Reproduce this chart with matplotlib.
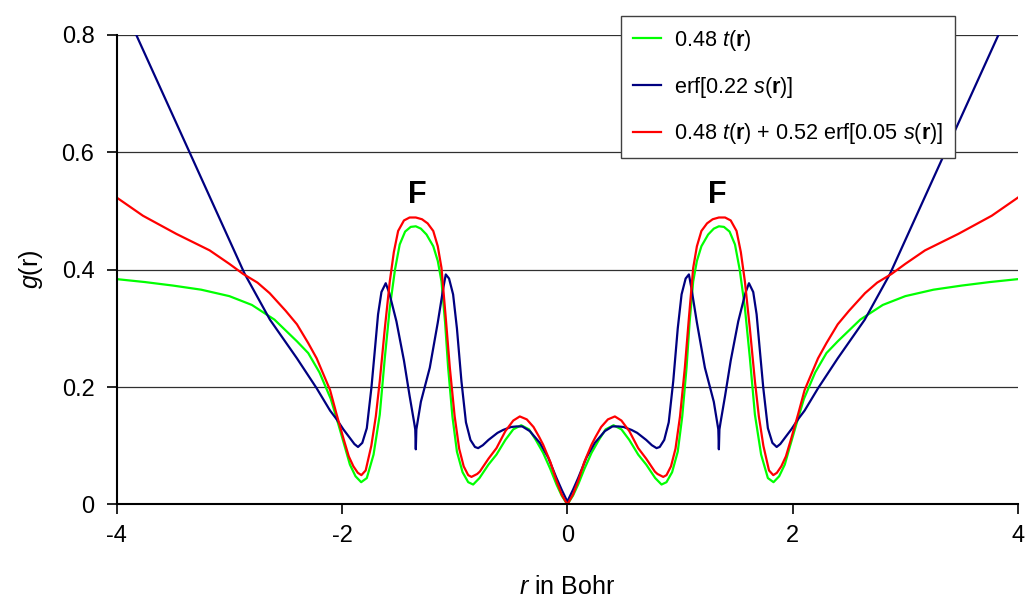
import numpy as np
import matplotlib
matplotlib.use('Agg')
import matplotlib.pyplot as plt

plt.rcParams['font.family'] = ['Liberation Sans', 'DejaVu Sans']
plt.rcParams['mathtext.fontset'] = 'custom'
plt.rcParams['mathtext.rm'] = 'Liberation Sans'
plt.rcParams['mathtext.it'] = 'Liberation Sans:italic'
plt.rcParams['mathtext.bf'] = 'Liberation Sans:bold'
plt.rcParams['axes.unicode_minus'] = False

# values (r in Bohr, g(r))
r_green = [-4.0, -3.75, -3.5, -3.25, -3.0, -2.8, -2.6, -2.4, -2.3, -2.2, -2.1, -2.03, -1.97, -1.93,
           -1.88, -1.83, -1.78, -1.72, -1.665, -1.62, -1.576, -1.53, -1.488, -1.44, -1.39, -1.345,
           -1.30, -1.25, -1.19, -1.15, -1.117, -1.085, -1.058, -1.02, -0.98, -0.93, -0.88, -0.836,
           -0.78, -0.70, -0.629, -0.55, -0.48, -0.41, -0.34, -0.28, -0.215, -0.15, -0.096, -0.05,
           0.0,
           0.05, 0.096, 0.15, 0.215, 0.28, 0.34, 0.41, 0.48, 0.55, 0.629, 0.70, 0.78,
           0.836, 0.88, 0.93, 0.98, 1.02, 1.058, 1.085, 1.117, 1.15, 1.19, 1.25, 1.30,
           1.345, 1.39, 1.44, 1.488, 1.53, 1.576, 1.62, 1.665, 1.72, 1.78, 1.83, 1.88,
           1.93, 1.97, 2.03, 2.1, 2.2, 2.3, 2.4, 2.6, 2.8, 3.0, 3.25, 3.5, 3.75, 4.0]
g_green = [0.384, 0.379, 0.373, 0.366, 0.355, 0.340, 0.315, 0.278, 0.258, 0.225, 0.180, 0.135, 0.095, 0.068,
           0.048, 0.038, 0.045, 0.085, 0.153, 0.250, 0.335, 0.400, 0.443, 0.465, 0.473, 0.474,
           0.470, 0.460, 0.440, 0.415, 0.380, 0.310, 0.233, 0.150, 0.090, 0.055, 0.038, 0.034,
           0.045, 0.068, 0.085, 0.110, 0.128, 0.135, 0.128, 0.110, 0.088, 0.060, 0.034, 0.015,
           0.0,
           0.015, 0.034, 0.060, 0.088, 0.110, 0.128, 0.135, 0.128, 0.110, 0.085, 0.068, 0.045,
           0.034, 0.038, 0.055, 0.090, 0.150, 0.233, 0.310, 0.380, 0.415, 0.440, 0.460, 0.470,
           0.474, 0.473, 0.465, 0.443, 0.400, 0.335, 0.250, 0.153, 0.085, 0.045, 0.038, 0.048,
           0.068, 0.095, 0.135, 0.180, 0.225, 0.258, 0.278, 0.315, 0.340, 0.355, 0.366, 0.373, 0.379, 0.384]

r_blue = [-4.0, -3.826, -3.353, -2.864, -2.64, -2.40, -2.225, -2.106, -2.047, -1.988, -1.929, -1.89,
          -1.858, -1.82, -1.78, -1.739, -1.71, -1.68, -1.65, -1.612, -1.58, -1.517, -1.45, -1.40,
          -1.36, -1.35, -1.345, -1.34, -1.30, -1.221, -1.15, -1.10, -1.079, -1.05, -1.014, -0.98,
          -0.94, -0.90, -0.86, -0.82, -0.792, -0.75, -0.70, -0.62, -0.57, -0.50, -0.451, -0.40,
          -0.333, -0.244, -0.17, -0.096, -0.05,
          0.0,
          0.05, 0.096, 0.17, 0.244, 0.333, 0.40, 0.451, 0.50, 0.57, 0.62, 0.70, 0.75,
          0.792, 0.82, 0.86, 0.90, 0.94, 0.98, 1.014, 1.05, 1.079, 1.10, 1.15, 1.221,
          1.30, 1.34, 1.345, 1.35, 1.36, 1.40, 1.45, 1.517, 1.58, 1.612, 1.65, 1.68,
          1.71, 1.739, 1.78, 1.82, 1.858, 1.89, 1.929, 1.988, 2.047, 2.106, 2.225, 2.40,
          2.64, 2.864, 3.353, 3.826, 4.0]
g_blue = [0.874, 0.800, 0.600, 0.393, 0.315, 0.249, 0.198, 0.160, 0.145, 0.128, 0.113, 0.103,
          0.098, 0.105, 0.130, 0.199, 0.260, 0.324, 0.362, 0.377, 0.360, 0.312, 0.245, 0.185,
          0.140, 0.128, 0.094, 0.128, 0.175, 0.233, 0.310, 0.370, 0.392, 0.385, 0.358, 0.300,
          0.210, 0.140, 0.110, 0.098, 0.096, 0.101, 0.110, 0.122, 0.127, 0.132, 0.133, 0.133,
          0.125, 0.105, 0.080, 0.045, 0.025,
          0.005,
          0.025, 0.045, 0.080, 0.105, 0.125, 0.133, 0.133, 0.132, 0.127, 0.122, 0.110, 0.101,
          0.096, 0.098, 0.110, 0.140, 0.210, 0.300, 0.358, 0.385, 0.392, 0.370, 0.310, 0.233,
          0.175, 0.128, 0.094, 0.128, 0.140, 0.185, 0.245, 0.312, 0.360, 0.377, 0.362, 0.324,
          0.260, 0.199, 0.130, 0.105, 0.098, 0.103, 0.113, 0.128, 0.145, 0.160, 0.198, 0.249,
          0.315, 0.393, 0.600, 0.800, 0.874]

r_red = [-4.0, -3.767, -3.47, -3.175, -3.0, -2.879, -2.75, -2.642, -2.5, -2.4, -2.3, -2.225,
         -2.106, -2.05, -1.988, -1.94, -1.899, -1.86, -1.828, -1.79, -1.74, -1.70, -1.665, -1.62,
         -1.576, -1.54, -1.502, -1.45, -1.40, -1.345, -1.29, -1.24, -1.19, -1.15, -1.117, -1.08,
         -1.043, -1.0, -0.96, -0.92, -0.88, -0.851, -0.80, -0.777, -0.70, -0.629, -0.55, -0.48,
         -0.422, -0.36, -0.30, -0.25, -0.215, -0.15, -0.096, -0.05,
         0.0,
         0.05, 0.096, 0.15, 0.215, 0.25, 0.30, 0.36, 0.422, 0.48, 0.55, 0.629, 0.70,
         0.777, 0.80, 0.851, 0.88, 0.92, 0.96, 1.0, 1.043, 1.08, 1.117, 1.15, 1.19,
         1.24, 1.29, 1.345, 1.40, 1.45, 1.502, 1.54, 1.576, 1.62, 1.665, 1.70, 1.74,
         1.79, 1.828, 1.86, 1.899, 1.94, 1.988, 2.05, 2.106, 2.225, 2.3, 2.4, 2.5,
         2.642, 2.75, 2.879, 3.0, 3.175, 3.47, 3.767, 4.0]
g_red = [0.523, 0.492, 0.461, 0.433, 0.410, 0.393, 0.378, 0.360, 0.330, 0.307, 0.275, 0.249,
         0.195, 0.155, 0.113, 0.082, 0.065, 0.054, 0.050, 0.058, 0.100, 0.150, 0.210, 0.300,
         0.380, 0.430, 0.466, 0.484, 0.489, 0.489, 0.486, 0.479, 0.466, 0.440, 0.403, 0.320,
         0.233, 0.150, 0.095, 0.065, 0.050, 0.047, 0.052, 0.056, 0.078, 0.096, 0.125, 0.143,
         0.150, 0.145, 0.132, 0.115, 0.102, 0.072, 0.040, 0.017,
         0.0,
         0.017, 0.040, 0.072, 0.102, 0.115, 0.132, 0.145, 0.150, 0.143, 0.125, 0.096, 0.078,
         0.056, 0.052, 0.047, 0.050, 0.065, 0.095, 0.150, 0.233, 0.320, 0.403, 0.440, 0.466,
         0.479, 0.486, 0.489, 0.489, 0.484, 0.466, 0.430, 0.380, 0.300, 0.210, 0.150, 0.100,
         0.058, 0.050, 0.054, 0.065, 0.082, 0.113, 0.155, 0.195, 0.249, 0.275, 0.307, 0.330,
         0.360, 0.378, 0.393, 0.410, 0.433, 0.461, 0.492, 0.523]

labels = [r'0.48 $\it{t}$($\bf{r}$)',
          r'erf[0.22 $\it{s}$($\bf{r}$)]',
          r'0.48 $\it{t}$($\bf{r}$) + 0.52 erf[0.05 $\it{s}$($\bf{r}$)]']

fig = plt.figure(figsize=(10.29, 6.01), dpi=100)
ax = fig.add_axes([0.1134, 0.1606, 0.8759, 0.7812])

ax.plot(r_green, g_green, color='#00FF00', lw=1.6, label=labels[0])
ax.plot(r_blue, g_blue, color='#000080', lw=1.6, label=labels[1])
ax.plot(r_red, g_red, color='#FF0000', lw=1.6, label=labels[2])

ax.set_xlim(-4, 4)
ax.set_ylim(0, 0.8)
ax.set_xticks([-4, -2, 0, 2, 4])
ax.set_xticklabels(['-4', '-2', '0', '2', '4'])
ax.set_yticks([0, 0.2, 0.4, 0.6, 0.8])
ax.set_yticklabels(['0', '0.2', '0.4', '0.6', '0.8'])
ax.yaxis.grid(True, color='#303030', lw=0.9)
ax.set_axisbelow(True)
for s in ['top', 'right']:
    ax.spines[s].set_visible(False)
for s in ['left', 'bottom']:
    ax.spines[s].set_linewidth(1.5)
ax.tick_params(direction='out', length=7, width=1.2, labelsize=17)
ax.tick_params(axis='y', pad=9)
ax.tick_params(axis='x', pad=8)

ax.set_xlabel(r'$\it{r}$ in Bohr', fontsize=18, labelpad=20)
ax.set_ylabel(r'$\it{g}$(r)', fontsize=18, labelpad=12)

# F labels above the peaks
for xf in [-1.332, 1.332]:
    ax.text(xf, 0.527, 'F', fontsize=22, fontweight='bold', ha='center', va='center')

leg = ax.legend(loc='upper left', bbox_to_anchor=(0.5595, 1.0405), fontsize=15.6,
                frameon=True, fancybox=False, borderaxespad=0, handlelength=1.3,
                labelspacing=1.0, borderpad=0.55, handletextpad=0.6)
leg.get_frame().set_edgecolor('#404040')
leg.get_frame().set_linewidth(1.0)
leg.get_frame().set_alpha(1)

plt.savefig('out.png', dpi=100)
